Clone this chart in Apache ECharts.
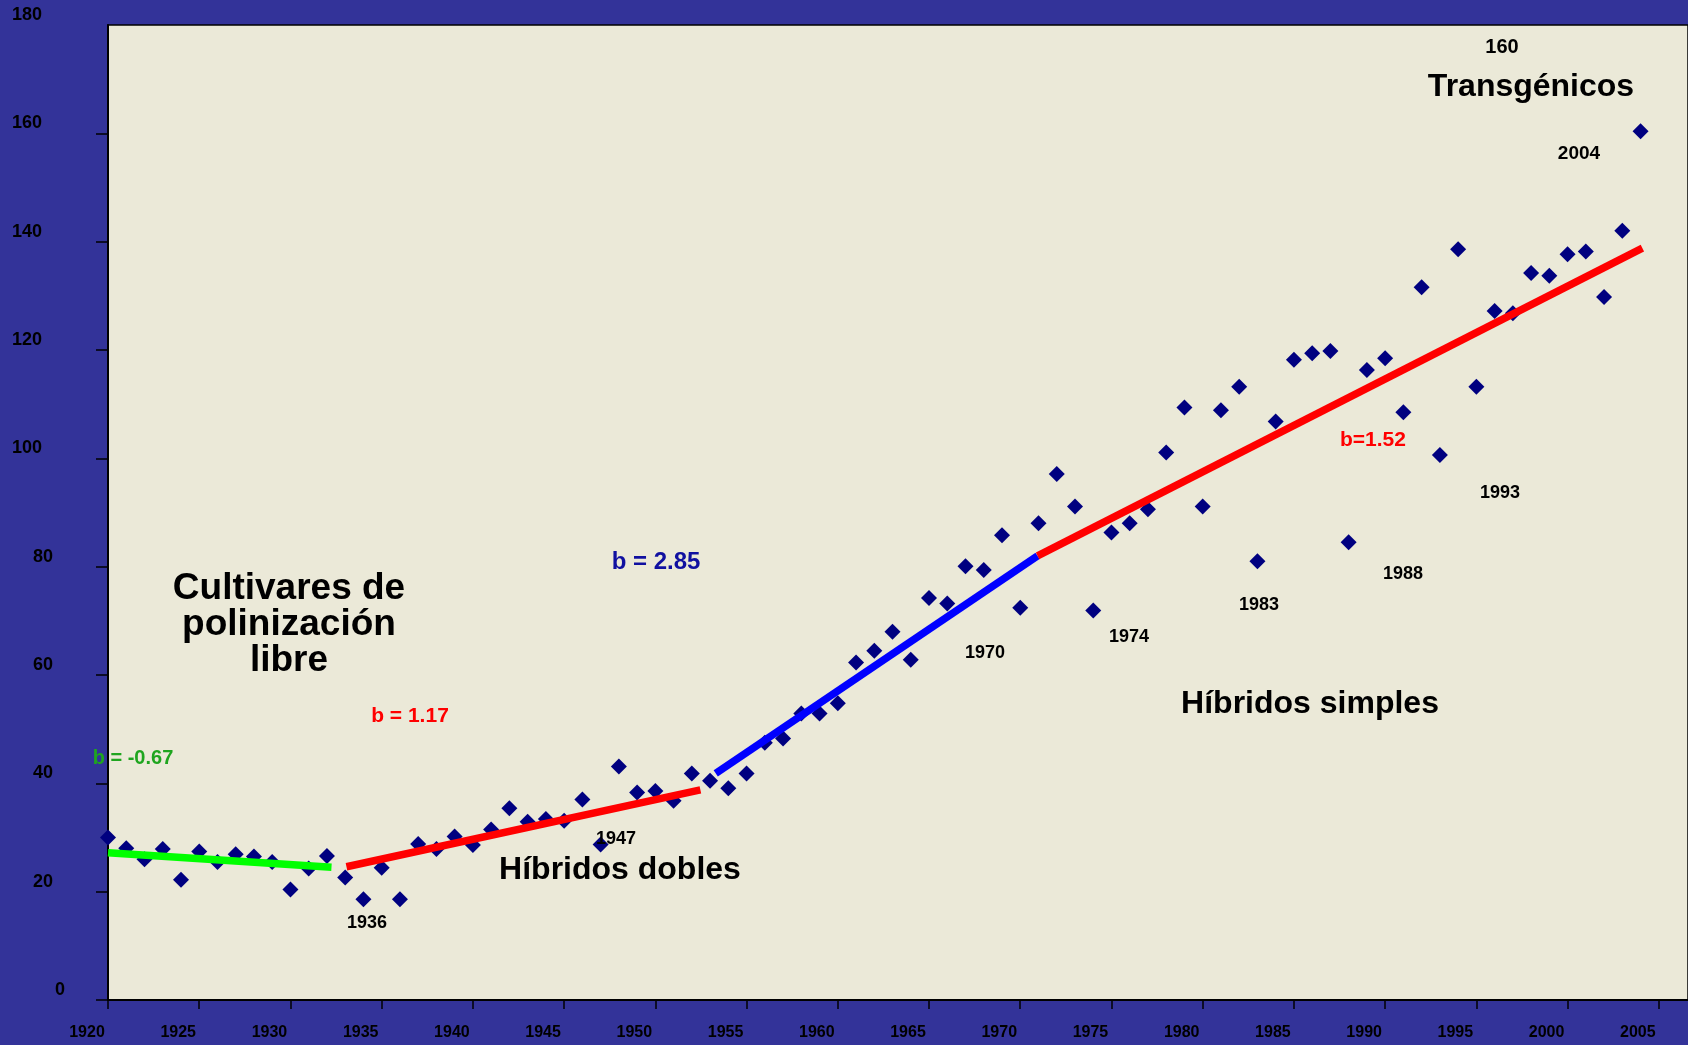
<!DOCTYPE html>
<html>
<head>
<meta charset="utf-8">
<script src="https://cdn.jsdelivr.net/npm/echarts@6/dist/echarts.min.js"></script>
<style>
html,body{margin:0;padding:0;background:#333399;}
#chart{width:1688px;height:1045px;}
</style>
</head>
<body>
<div id="chart"></div>
<script>
// ---- data ----
const years = [1920,1921,1922,1923,1924,1925,1926,1927,1928,1929,
  1930,1931,1932,1933,1934,1935,1936,1937,1938,1939,
  1940,1941,1942,1943,1944,1945,1946,1947,1948,1949,
  1950,1951,1952,1953,1954,1955,1956,1957,1958,1959,
  1960,1961,1962,1963,1964,1965,1966,1967,1968,1969,
  1970,1971,1972,1973,1974,1975,1976,1977,1978,1979,
  1980,1981,1982,1983,1984,1985,1986,1987,1988,1989,
  1990,1991,1992,1993,1994,1995,1996,1997,1998,1999,
  2000,2001,2002,2003,2004];
const yields = [30.0,28.0,26.0,27.9,22.2,27.4,25.5,26.9,26.5,25.5,
  20.4,24.3,26.6,22.6,18.6,24.4,18.6,28.8,27.9,30.2,
  28.6,31.5,35.4,32.9,33.4,33.1,37.0,28.7,43.1,38.3,
  38.6,36.8,41.8,40.5,39.1,41.8,47.5,48.3,52.9,52.9,
  54.8,62.3,64.5,68.0,62.8,74.2,73.2,80.1,79.4,85.8,
  72.4,88.0,97.1,91.1,71.9,86.3,88.0,90.6,101.1,109.4,
  91.1,108.9,113.2,81.0,106.8,118.2,119.4,119.8,84.5,116.3,
  118.5,108.5,131.6,100.6,138.6,113.2,127.2,126.8,134.2,133.7,
  137.7,138.2,129.8,142.0,160.4];

// regression segments (year, value)
const trendGreen = [[1920, 27.2], [1932.25, 24.5]];
const trendRed1  = [[1933.07, 24.6], [1952.47, 38.8]];
const trendBlue  = [[1953.31, 41.85], [1970.95, 82.0]];
const trendRed2  = [[1970.95, 82.0], [2004.1, 138.8]];

// axis tick values
const xTickYears = [1920,1925,1930,1935,1940,1945,1950,1955,1960,1965,1970,1975,1980,1985,1990,1995,2000,2005];
const yTickVals = [0,20,40,60,80,100,120,140,160];
const xMin = 1920, xMax = 2006.6, xStep = 5;
const yMin = 0, yMax = 180, yStep = 20;

// ---- annotations (texts) ----
const FONT = '"Liberation Sans", Arial, Helvetica, sans-serif';
const notes = [
  {t:'Cultivares de\npolinización\nlibre', x:289, y:625, s:37, c:'#000', lh:36},
  {t:'b = -0.67', x:133, y:758, s:20, c:'#1fa51f'},
  {t:'b = 1.17', x:410, y:716, s:21, c:'#ff0000'},
  {t:'1936', x:367, y:923, s:18, c:'#000'},
  {t:'1947', x:616, y:839, s:18, c:'#000'},
  {t:'Híbridos dobles', x:620, y:870, s:32, c:'#000'},
  {t:'b = 2.85', x:656, y:562, s:24, c:'#1010a0'},
  {t:'1970', x:985, y:653, s:18, c:'#000'},
  {t:'1974', x:1129, y:637, s:18, c:'#000'},
  {t:'Híbridos simples', x:1310, y:704, s:32, c:'#000'},
  {t:'1983', x:1259, y:605, s:18, c:'#000'},
  {t:'1988', x:1403, y:574, s:18, c:'#000'},
  {t:'b=1.52', x:1373, y:440, s:21, c:'#ff0000'},
  {t:'1993', x:1500, y:493, s:18, c:'#000'},
  {t:'2004', x:1579, y:154, s:19, c:'#000'},
  {t:'Transgénicos', x:1531, y:87, s:32, c:'#000'},
  {t:'160', x:1502, y:47, s:20, c:'#000'}
];

const chart = echarts.init(document.getElementById('chart'));

const lineSeries = (d, color) => ({
  type: 'line', data: d, showSymbol: false, symbol: 'none', z: 5,
  lineStyle: {color: color, width: 7.5, cap: 'butt'}, silent: true
});

const option = {
  backgroundColor: '#333399',
  animation: false,
  grid: {left: 108, top: 25, right: -2, bottom: 45, show: true,
    backgroundColor: '#ebe9d8', borderColor: '#000', borderWidth: 1.5},
  xAxis: {
    type: 'value', min: xMin, max: xMax, interval: xStep,
    splitLine: {show: false},
    axisLine: {show: true, lineStyle: {color: '#000', width: 2}},
    axisTick: {show: true, length: 9, customValues: xTickYears, lineStyle: {color: '#000', width: 1.5}},
    axisLabel: {
      customValues: xTickYears,
      formatter: v => String(v),
      color: '#000', fontWeight: 'bold', fontSize: 16, fontFamily: FONT,
      margin: 25, padding: [0, 42, 0, 0]
    }
  },
  yAxis: {
    type: 'value', min: yMin, max: yMax, interval: yStep,
    splitLine: {show: false},
    axisLine: {show: true, lineStyle: {color: '#000', width: 2}},
    axisTick: {show: true, length: 12, customValues: yTickVals, lineStyle: {color: '#000', width: 1.5}},
    axisLabel: {
      margin: 43,
      formatter: v => v >= 100 ? '{a|' + v + '}' : (v >= 10 ? '{b|' + v + '}' : '{c|' + v + '}'),
      rich: {
        a: {fontSize: 18, fontWeight: 'bold', fontFamily: FONT, color: '#000', padding: [0, 23, 20, 0]},
        b: {fontSize: 18, fontWeight: 'bold', fontFamily: FONT, color: '#000', padding: [0, 12, 20, 0]},
        c: {fontSize: 18, fontWeight: 'bold', fontFamily: FONT, color: '#000', padding: [0, 0, 20, 0]}
      }
    }
  },
  series: [
    {
      type: 'scatter', z: 3,
      data: years.map((y, i) => [y, yields[i]]),
      symbol: 'diamond', symbolSize: 16,
      itemStyle: {color: '#000080', opacity: 1}
    },
    lineSeries(trendGreen, '#00ff00'),
    lineSeries(trendRed1, '#ff0000'),
    lineSeries(trendBlue, '#0000ff'),
    lineSeries(trendRed2, '#ff0000')
  ],
  graphic: notes.map(n => ({
    type: 'text', x: n.x, y: n.y, z: 100,
    style: {
      text: n.t, fill: n.c, align: 'center', verticalAlign: 'middle',
      font: 'bold ' + n.s + 'px ' + FONT, lineHeight: n.lh || n.s
    }
  }))
};
chart.setOption(option);
</script>
</body>
</html>
